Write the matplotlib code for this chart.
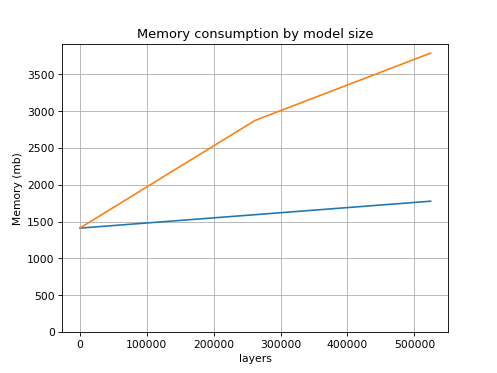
import matplotlib
matplotlib.use("Agg")
import matplotlib.pyplot as plt

layers = [1, 262144, 524288]
mem_a = [1411, 1594, 1777]
mem_b = [1411, 2876, 3790]


def main():
    plt.figure(figsize=(6.4, 4.8), dpi=77.8)
    plt.plot(layers, mem_a)
    plt.plot(layers, mem_b)
    plt.ylim(bottom=0)
    plt.title("Memory consumption by model size")
    plt.xlabel("layers")
    plt.ylabel("Memory (mb)")
    plt.grid(True)
    plt.savefig("out.png", dpi=77.8)


if __name__ == "__main__":
    main()
